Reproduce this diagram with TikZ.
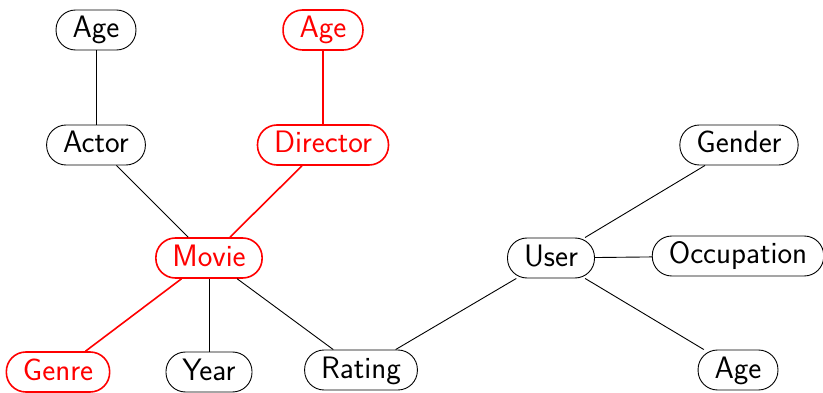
\documentclass[tikz,border=0pt]{standalone}
\begin{document}
\begin{tikzpicture}[x=1pt,y=-1pt,
  ent/.style={draw=black,line width=0.9pt,rectangle,rounded corners=19.5pt,inner xsep=16.5pt,inner ysep=0pt,
    minimum height=40pt,text height=20pt,text depth=4pt,
    font=\fontsize{31}{35}\selectfont\sffamily},
  hot/.style={ent,draw=red,text=red,line width=1.6pt},
  edge/.style={line width=0.9pt,black},
  hedge/.style={line width=1.6pt,red}]
\useasboundingbox (0,0) rectangle (823,393);
\node[ent] (age1) at (96,30) {Age};
\node[hot] (age2) at (323,30) {Age};
\node[ent] (actor) at (96,145) {Actor};
\node[hot] (director) at (323,145) {Director};
\node[ent] (gender) at (739,145) {Gender};
\node[hot] (movie) at (209,258) {Movie};
\node[ent] (user) at (551,258) {User};
\node[ent] (occupation) at (738,256) {Occupation};
\node[hot] (genre) at (58,372) {Genre};
\node[ent] (year) at (209,372) {Year};
\node[ent] (rating) at (361,370) {Rating};
\node[ent] (age3) at (738,370) {Age};
\draw[edge] (age1) -- (actor);
\draw[edge] (actor) -- (movie);
\draw[hedge] (age2) -- (director);
\draw[hedge] (director) -- (movie);
\draw[hedge] (movie) -- (genre);
\draw[edge] (movie) -- (year);
\draw[edge] (movie) -- (rating);
\draw[edge] (rating) -- (user);
\draw[edge] (user) -- (gender);
\draw[edge] (user) -- (occupation);
\draw[edge] (user) -- (age3);
\end{tikzpicture}
\end{document}
